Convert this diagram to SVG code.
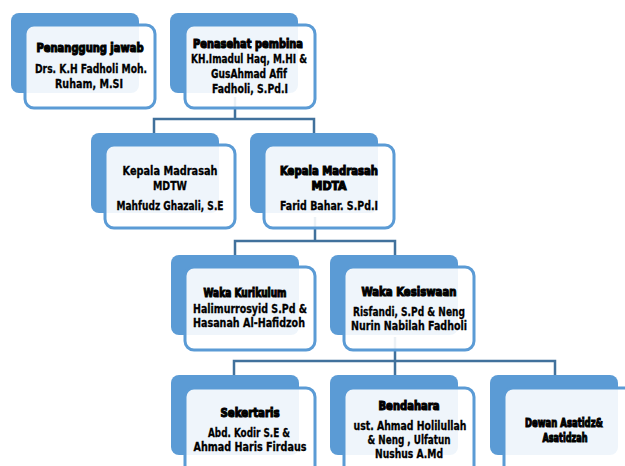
<svg xmlns="http://www.w3.org/2000/svg" width="625" height="466" viewBox="0 0 625 466">
<style>
.back{fill:#5B9BD5;}
.front{fill:#ffffff;fill-opacity:0.9;stroke:#5B9BD5;stroke-width:3;}
.conn{fill:none;stroke:#41719C;stroke-width:2.5;}
text{font-family:"Liberation Sans Narrow","DejaVu Sans Condensed","Liberation Sans",sans-serif;font-weight:bold;font-size:12.5px;fill:#000;text-anchor:middle;stroke:#000;stroke-width:0.3;}
.t{stroke-width:1.1;font-size:12.5px;}
</style>
<rect width="625" height="466" fill="#ffffff"/>
<g id="connectors">
<path class="conn" d="M235,97 V119 M154,135 V119 H314 V135"/>
<path class="conn" d="M315,217 V241 M235,256 V241 H395 V256"/>
<path class="conn" d="M395,337 V361 M234,376 V361 H555 V376 M395,361 V376"/>
</g>
<g id="penanggung-jawab">
<rect class="back" x="11" y="13" width="128" height="80" rx="8"/>
<rect class="front" x="25" y="25" width="130" height="83" rx="9"/>
<text class="t" x="90" y="52" textLength="107" lengthAdjust="spacingAndGlyphs">Penanggung jawab</text>
<text x="91" y="73" textLength="112" lengthAdjust="spacingAndGlyphs">Drs. K.H Fadholi Moh.</text>
<text x="89" y="88" textLength="68" lengthAdjust="spacingAndGlyphs">Ruham, M.SI</text>
</g>
<g id="penasehat-pembina">
<rect class="back" x="170" y="13" width="128" height="80" rx="8"/>
<rect class="front" x="185" y="25" width="130" height="83" rx="9"/>
<text class="t" x="248" y="48" textLength="110" lengthAdjust="spacingAndGlyphs">Penasehat pembina</text>
<text x="249" y="63" textLength="116" lengthAdjust="spacingAndGlyphs">KH.Imadul Haq, M.HI &amp;</text>
<text x="249" y="78" textLength="76" lengthAdjust="spacingAndGlyphs">GusAhmad Afif</text>
<text x="250" y="93" textLength="76" lengthAdjust="spacingAndGlyphs">Fadholi, S.Pd.I</text>
</g>
<g id="kepala-mdtw">
<rect class="back" x="91" y="133" width="128" height="80" rx="8"/>
<rect class="front" x="105" y="145" width="130" height="83" rx="9"/>
<text x="170" y="175" textLength="95" lengthAdjust="spacingAndGlyphs">Kepala Madrasah</text>
<text x="170" y="190" textLength="34" lengthAdjust="spacingAndGlyphs">MDTW</text>
<text x="170" y="210" textLength="107" lengthAdjust="spacingAndGlyphs">Mahfudz Ghazali, S.E</text>
</g>
<g id="kepala-mdta">
<rect class="back" x="250" y="133" width="128" height="80" rx="8"/>
<rect class="front" x="264" y="145" width="130" height="83" rx="9"/>
<text class="t" x="329" y="175" textLength="98" lengthAdjust="spacingAndGlyphs">Kepala Madrasah</text>
<text class="t" x="329" y="190" textLength="35" lengthAdjust="spacingAndGlyphs">MDTA</text>
<text x="329" y="210" textLength="98" lengthAdjust="spacingAndGlyphs">Farid Bahar. S.Pd.I</text>
</g>
<g id="waka-kurikulum">
<rect class="back" x="171" y="255" width="128" height="80" rx="8"/>
<rect class="front" x="185" y="267" width="130" height="83" rx="9"/>
<text class="t" x="245" y="297" textLength="83" lengthAdjust="spacingAndGlyphs">Waka Kurikulum</text>
<text x="250" y="313" textLength="114" lengthAdjust="spacingAndGlyphs">Halimurrosyid S.Pd &amp;</text>
<text x="249" y="327" textLength="112" lengthAdjust="spacingAndGlyphs">Hasanah Al-Hafidzoh</text>
</g>
<g id="waka-kesiswaan">
<rect class="back" x="330" y="255" width="128" height="80" rx="8"/>
<rect class="front" x="344" y="267" width="130" height="83" rx="9"/>
<text class="t" x="409" y="296" textLength="95" lengthAdjust="spacingAndGlyphs">Waka Kesiswaan</text>
<text x="409" y="316" textLength="112" lengthAdjust="spacingAndGlyphs">Risfandi, S.Pd &amp; Neng</text>
<text x="409" y="330" textLength="116" lengthAdjust="spacingAndGlyphs">Nurin Nabilah Fadholi</text>
</g>
<g id="sekertaris">
<rect class="back" x="171" y="375" width="128" height="80" rx="8"/>
<rect class="front" x="185" y="388" width="130" height="90" rx="9"/>
<text class="t" x="250" y="417" textLength="59" lengthAdjust="spacingAndGlyphs">Sekertaris</text>
<text x="249" y="437" textLength="82" lengthAdjust="spacingAndGlyphs">Abd. Kodir S.E &amp;</text>
<text x="250" y="451" textLength="113" lengthAdjust="spacingAndGlyphs">Ahmad Haris Firdaus</text>
</g>
<g id="bendahara">
<rect class="back" x="330" y="375" width="128" height="80" rx="8"/>
<rect class="front" x="344" y="388" width="130" height="90" rx="9"/>
<text class="t" x="409" y="410" textLength="61" lengthAdjust="spacingAndGlyphs">Bendahara</text>
<text x="410" y="430" textLength="113" lengthAdjust="spacingAndGlyphs">ust. Ahmad Holilullah</text>
<text x="409" y="444" textLength="83" lengthAdjust="spacingAndGlyphs">&amp; Neng , Ulfatun</text>
<text x="409" y="458" textLength="68" lengthAdjust="spacingAndGlyphs">Nushus A.Md</text>
</g>
<g id="dewan-asatidz">
<rect class="back" x="490" y="375" width="128" height="80" rx="8"/>
<rect class="front" x="504" y="388" width="130" height="90" rx="9"/>
<text class="t" x="564" y="427" textLength="78" lengthAdjust="spacingAndGlyphs">Dewan Asatidz&amp;</text>
<text class="t" x="565" y="442" textLength="45" lengthAdjust="spacingAndGlyphs">Asatidzah</text>
</g>
</svg>
